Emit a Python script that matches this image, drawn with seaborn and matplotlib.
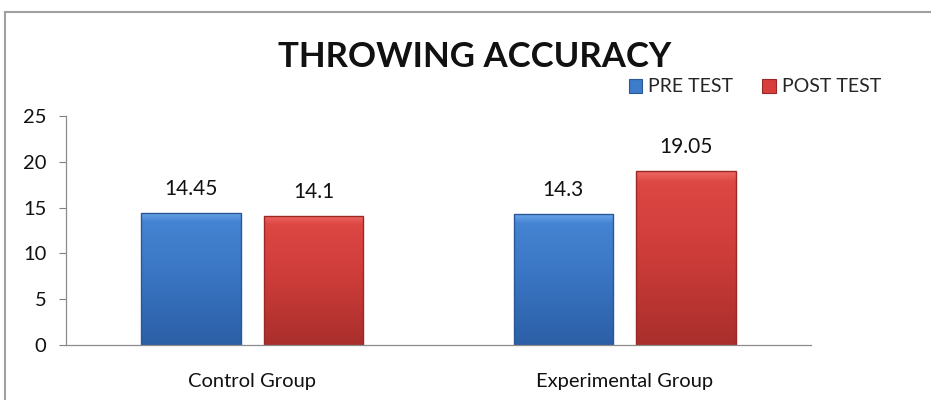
import matplotlib
matplotlib.use("Agg")
import matplotlib.pyplot as plt
import seaborn as sns
import pandas as pd
import numpy as np
from matplotlib.patches import Rectangle
from matplotlib.colors import LinearSegmentedColormap

groups = ["Control Group", "Experimental Group"]
tests = ["PRE TEST", "POST TEST"]
pre_scores = [14.45, 14.3]
post_scores = [14.1, 19.05]
yticks = [0, 5, 10, 15, 20, 25]

df = pd.DataFrame({
    "group": groups * 2,
    "test": [tests[0]] * 2 + [tests[1]] * 2,
    "score": pre_scores + post_scores,
})

sns.set_theme(style="white")
plt.rcParams["font.family"] = ["Lato", "DejaVu Sans"]

fig = plt.figure(figsize=(9.31, 4.0), dpi=100)
ax = fig.add_axes([66 / 931, 55 / 400, 745 / 931, 229 / 400])

palette = {"PRE TEST": "#3d7bcb", "POST TEST": "#d63f3c"}
edges = {"PRE TEST": "#2a5796", "POST TEST": "#9a2926"}
shades = {
    "PRE TEST": ["#2c5fa6", "#3a76c4", "#4584d2", "#6aa6ea"],
    "POST TEST": ["#a92f2c", "#cf3d3a", "#dd4744", "#ef6a64"],
}
sns.barplot(data=df, x="group", y="score", hue="test", hue_order=tests,
            order=groups, palette=palette, width=0.66, gap=0.19,
            ax=ax, legend=True, saturation=1)

ax.set_ylim(0, 25)
ax.set_xlim(-0.5, 1.5)

# vertical shading inside each bar, clipped to the bar outline
ramp = np.linspace(0, 1, 256).reshape(-1, 1)
for container, name in zip(ax.containers, tests):
    cmap = LinearSegmentedColormap.from_list(
        name, list(zip([0.0, 0.55, 0.93, 1.0], shades[name])))
    for bar in container:
        x0, y0 = bar.get_x(), bar.get_y()
        w, h = bar.get_width(), bar.get_height()
        img = ax.imshow(ramp, cmap=cmap, origin="lower", aspect="auto",
                        extent=(x0, x0 + w, y0, y0 + h), zorder=bar.get_zorder() + 0.1,
                        interpolation="bilinear")
        img.set_clip_path(bar)
        bar.set_edgecolor(edges[name])
        bar.set_linewidth(1.0)
        bar.set_zorder(bar.get_zorder() + 0.2)
        bar.set_facecolor("none")
    ax.bar_label(container, labels=[f"{v:g}" for v in container.datavalues],
                 padding=10, fontsize=15, color="#111111")

ax.set_ylim(0, 25)
ax.set_xlim(-0.5, 1.5)
ax.set_yticks(yticks)
ax.set_xlabel("")
ax.set_ylabel("")
ax.tick_params(axis="y", which="both", left=True, length=5, width=0.8,
               color="#808080", labelsize=14.5, pad=9, labelcolor="#111111")
ax.tick_params(axis="x", length=0, labelsize=14.5, pad=20, labelcolor="#111111")
for side in ["top", "right"]:
    ax.spines[side].set_visible(False)
for side in ["left", "bottom"]:
    ax.spines[side].set_color("#8c8c8c")
    ax.spines[side].set_linewidth(0.9)

handles = [Rectangle((0, 0), 1, 1, facecolor=palette[t], edgecolor=edges[t], linewidth=0.8)
           for t in tests]
leg = ax.legend(handles, tests, loc="center", bbox_to_anchor=(755 / 931, 1 - 87 / 400),
                bbox_transform=fig.transFigure, ncol=2, frameon=False,
                fontsize=14, handlelength=0.7, handleheight=0.7,
                handletextpad=0.3, columnspacing=1.5)

fig.text(475 / 931, 1 - 57 / 400, "THROWING ACCURACY", ha="center", va="center",
         fontsize=25, fontweight="bold", color="#111111")

fig.patches.append(Rectangle((5 / 931, -0.05), 1.2, 1 - 12 / 400 + 0.05,
                             transform=fig.transFigure, fill=False,
                             edgecolor="#a0a0a0", linewidth=1.5))

fig.savefig("out.png", dpi=100, facecolor="white")
